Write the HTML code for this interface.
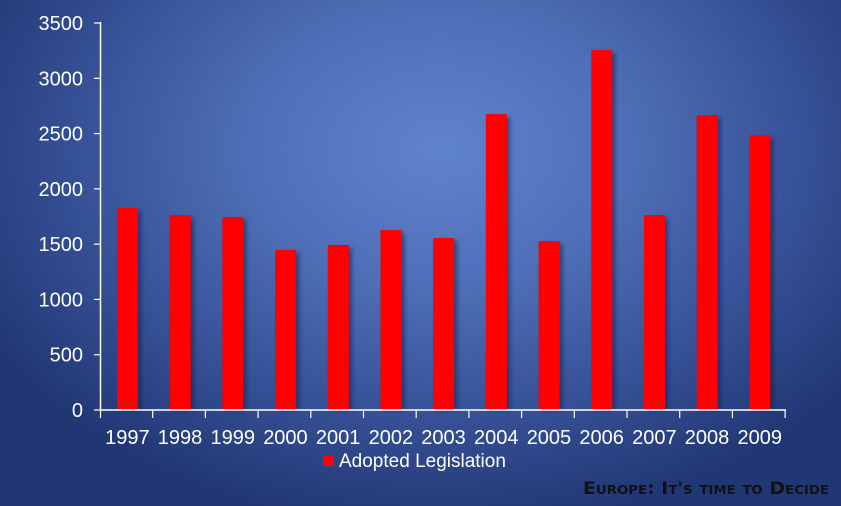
<!DOCTYPE html>
<html><head><meta charset="utf-8"><style>
html,body{margin:0;padding:0;width:841px;height:506px;overflow:hidden;}
body{background:radial-gradient(ellipse 520px 380px at 440px 150px,#5f83cc 0%,#4f70b8 35%,#3a559c 65%,#213774 100%);font-family:"Liberation Sans",sans-serif;}
svg{display:block;}
</style></head><body>
<svg width="841" height="506" viewBox="0 0 841 506" xmlns="http://www.w3.org/2000/svg">
<defs><filter id="sh" x="-20%" y="-5%" width="150%" height="110%"><feGaussianBlur stdDeviation="2"/></filter></defs>
<g id="bars"></g>
<g stroke="#fff" stroke-width="1.5" fill="none">
<line x1="100.5" y1="22" x2="100.5" y2="410"/>
<line x1="100" y1="410" x2="786" y2="410"/>
</g>
<g id="ticks" stroke="#fff" stroke-width="1.2"></g>
<g id="lbl" fill="#fff" font-size="20" font-family="Liberation Sans, sans-serif"></g>
<rect x="323" y="455" width="11" height="11" fill="#f00"/>
<text x="339" y="467" fill="#fff" font-size="19">Adopted Legislation</text>
<text x="829" y="494" text-anchor="end" fill="#111" font-size="17" font-weight="bold" font-family="DejaVu Sans, sans-serif" style="font-variant:small-caps" textLength="246" lengthAdjust="spacingAndGlyphs">Europe: It's time to Decide</text>
</svg>
<script>
var v=[1826,1763,1745,1447,1492,1627,1555,2676,1528,3255,1763,2667,2486];
var ns="http://www.w3.org/2000/svg",b=document.getElementById('bars'),t=document.getElementById('ticks'),l=document.getElementById('lbl');
function el(p,n,a,txt){var e=document.createElementNS(ns,n);for(var k in a)e.setAttribute(k,a[k]);if(txt)e.textContent=txt;p.appendChild(e);return e;}
var cw=52.7,y0=410,s=387/3500;
for(var i=0;i<13;i++){var x=100+i*cw+17,h=v[i]*s;
el(b,'rect',{x:x+3,y:y0-h+3,width:21,height:h-3,fill:'#0a1a4a',opacity:0.55,filter:'url(#sh)'});
el(b,'rect',{x:x,y:y0-h,width:21,height:h,fill:'#ff0000'});
el(t,'line',{x1:100+(i+1)*cw,y1:410,x2:100+(i+1)*cw,y2:418});
el(l,'text',{x:100+i*cw+cw/2+1,y:444,'text-anchor':'middle'},String(1997+i));}
el(t,'line',{x1:100.5,y1:410,x2:100.5,y2:418});
for(var j=0;j<=7;j++){var y=410-j*387/7;
el(t,'line',{x1:94,y1:y,x2:100,y2:y});
el(l,'text',{x:83,y:y+7,'text-anchor':'end'},String(j*500));}
</script>
</body></html>
